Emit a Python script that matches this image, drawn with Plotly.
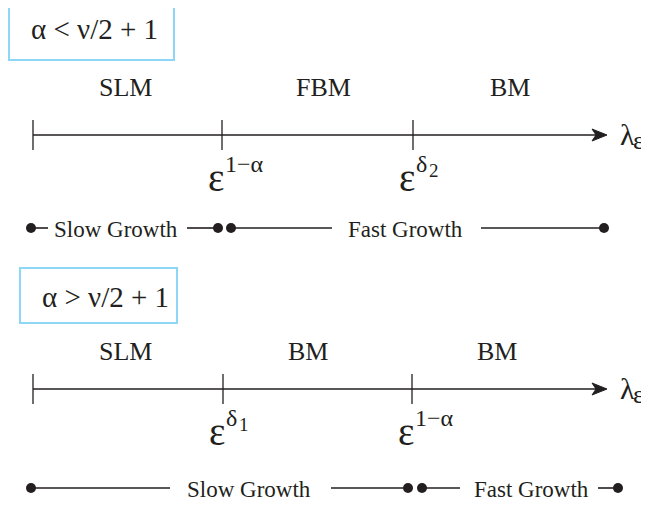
import plotly.graph_objects as go

W, H = 649, 511
OFF = 8  # default page margin of the html body
FONT = "Liberation Serif"
INK = "#231f20"
BOX = "#8ed6f6"

# ---------------- data: panel 1 (alpha < nu/2 + 1) ----------------
p1_condition = "α < ν/2 + 1"
p1_box = [9, -40, 174, 60]
p1_cond_xy = [94, 29]
p1_axis_y = 135
p1_ticks = [33, 222, 413]
p1_regions = ["SLM", "FBM", "BM"]
p1_region_x = [125, 323, 510]
p1_region_y = 87
p1_marks_sup = ["1−α", "δ"]
p1_marks_sub = [None, "2"]
p1_growth_y = 228
p1_dots = [31, 218, 231, 604]
p1_segments = [[31, 48], [187, 218], [231, 332], [481, 604]]
p1_growth_labels = ["Slow Growth", "Fast Growth"]
p1_growth_label_x = [116, 405]

# ---------------- data: panel 2 (alpha > nu/2 + 1) ----------------
p2_condition = "α > ν/2 + 1"
p2_box = [20, 268, 177, 323]
p2_cond_xy = [105, 297]
p2_axis_y = 389
p2_ticks = [33, 223, 412]
p2_regions = ["SLM", "BM", "BM"]
p2_region_x = [125, 308, 497]
p2_region_y = 351
p2_marks_sup = ["δ", "1−α"]
p2_marks_sub = ["1", None]
p2_growth_y = 488
p2_dots = [31, 408, 422, 618]
p2_segments = [[31, 170], [331, 408], [422, 460], [598, 618]]
p2_growth_labels = ["Slow Growth", "Fast Growth"]
p2_growth_label_x = [249, 531]

AXIS_END = 600
ARROW_TIP = 607
TICK_HALF = 15

fig = go.Figure()
annotations = []
shapes = []


def add_text(x, y, text, size, xanchor="center", yanchor="middle"):
    annotations.append(dict(
        x=x, y=y, xref="x", yref="y", text=text, showarrow=False,
        xanchor=xanchor, yanchor=yanchor,
        font=dict(family=FONT, size=size, color=INK),
    ))


def panel(condition, box, cond_xy, axis_y, ticks, regions, region_x, region_y,
          sups, subs, growth_y, dots, segments, glabels, glabel_x):
    # condition box
    shapes.append(dict(type="rect", xref="x", yref="y",
                       x0=box[0], y0=box[1], x1=box[2], y1=box[3],
                       line=dict(color=BOX, width=2), fillcolor="rgba(0,0,0,0)"))
    add_text(cond_xy[0], cond_xy[1], condition, 29)

    # main axis line
    fig.add_trace(go.Scatter(x=[ticks[0], AXIS_END], y=[axis_y, axis_y], mode="lines",
                             line=dict(color=INK, width=1.6), hoverinfo="skip",
                             showlegend=False))
    # arrow head
    fig.add_trace(go.Scatter(
        x=[ARROW_TIP, ARROW_TIP - 15, ARROW_TIP - 11, ARROW_TIP - 15, ARROW_TIP],
        y=[axis_y, axis_y - 6, axis_y, axis_y + 6, axis_y],
        mode="lines", fill="toself", fillcolor=INK, line=dict(color=INK, width=1),
        hoverinfo="skip", showlegend=False))
    # ticks
    tx, ty = [], []
    for t in ticks:
        tx += [t, t, None]
        ty += [axis_y - TICK_HALF, axis_y + TICK_HALF, None]
    fig.add_trace(go.Scatter(x=tx, y=ty, mode="lines",
                             line=dict(color=INK, width=1.3), hoverinfo="skip",
                             showlegend=False))
    # lambda_eps label
    add_text(618, axis_y - 1, "λ", 30, xanchor="left")
    add_text(631, axis_y + 5, "ε", 26, xanchor="left")

    # region labels
    for lab, x in zip(regions, region_x):
        add_text(x, region_y, lab, 26)

    # tick labels eps^{...}
    for t, sup, sub in zip(ticks[1:], sups, subs):
        add_text(t - 6, axis_y + 42, "ε", 39)
        add_text(t + 1, axis_y + 29, sup, 24, xanchor="left")
        if sub is not None:
            add_text(t + 14, axis_y + 35, sub, 19, xanchor="left")

    # growth row
    sx, sy = [], []
    for a, b in segments:
        sx += [a, b, None]
        sy += [growth_y, growth_y, None]
    fig.add_trace(go.Scatter(x=sx, y=sy, mode="lines",
                             line=dict(color=INK, width=1.6), hoverinfo="skip",
                             showlegend=False))
    fig.add_trace(go.Scatter(x=dots, y=[growth_y] * len(dots), mode="markers",
                             marker=dict(color=INK, size=10, symbol="circle"),
                             hoverinfo="skip", showlegend=False))
    for lab, x in zip(glabels, glabel_x):
        add_text(x, growth_y + 1, lab, 23)


panel(p1_condition, p1_box, p1_cond_xy, p1_axis_y, p1_ticks, p1_regions, p1_region_x,
      p1_region_y, p1_marks_sup, p1_marks_sub, p1_growth_y, p1_dots, p1_segments,
      p1_growth_labels, p1_growth_label_x)
panel(p2_condition, p2_box, p2_cond_xy, p2_axis_y, p2_ticks, p2_regions, p2_region_x,
      p2_region_y, p2_marks_sup, p2_marks_sub, p2_growth_y, p2_dots, p2_segments,
      p2_growth_labels, p2_growth_label_x)

fig.update_layout(
    width=W - OFF, height=H - OFF, margin=dict(l=0, r=0, t=0, b=0),
    paper_bgcolor="white", plot_bgcolor="white",
    xaxis=dict(range=[OFF, W], visible=False, fixedrange=True),
    yaxis=dict(range=[H, OFF], visible=False, fixedrange=True),
    annotations=annotations, shapes=shapes, showlegend=False,
)
fig.write_html("out.html")
